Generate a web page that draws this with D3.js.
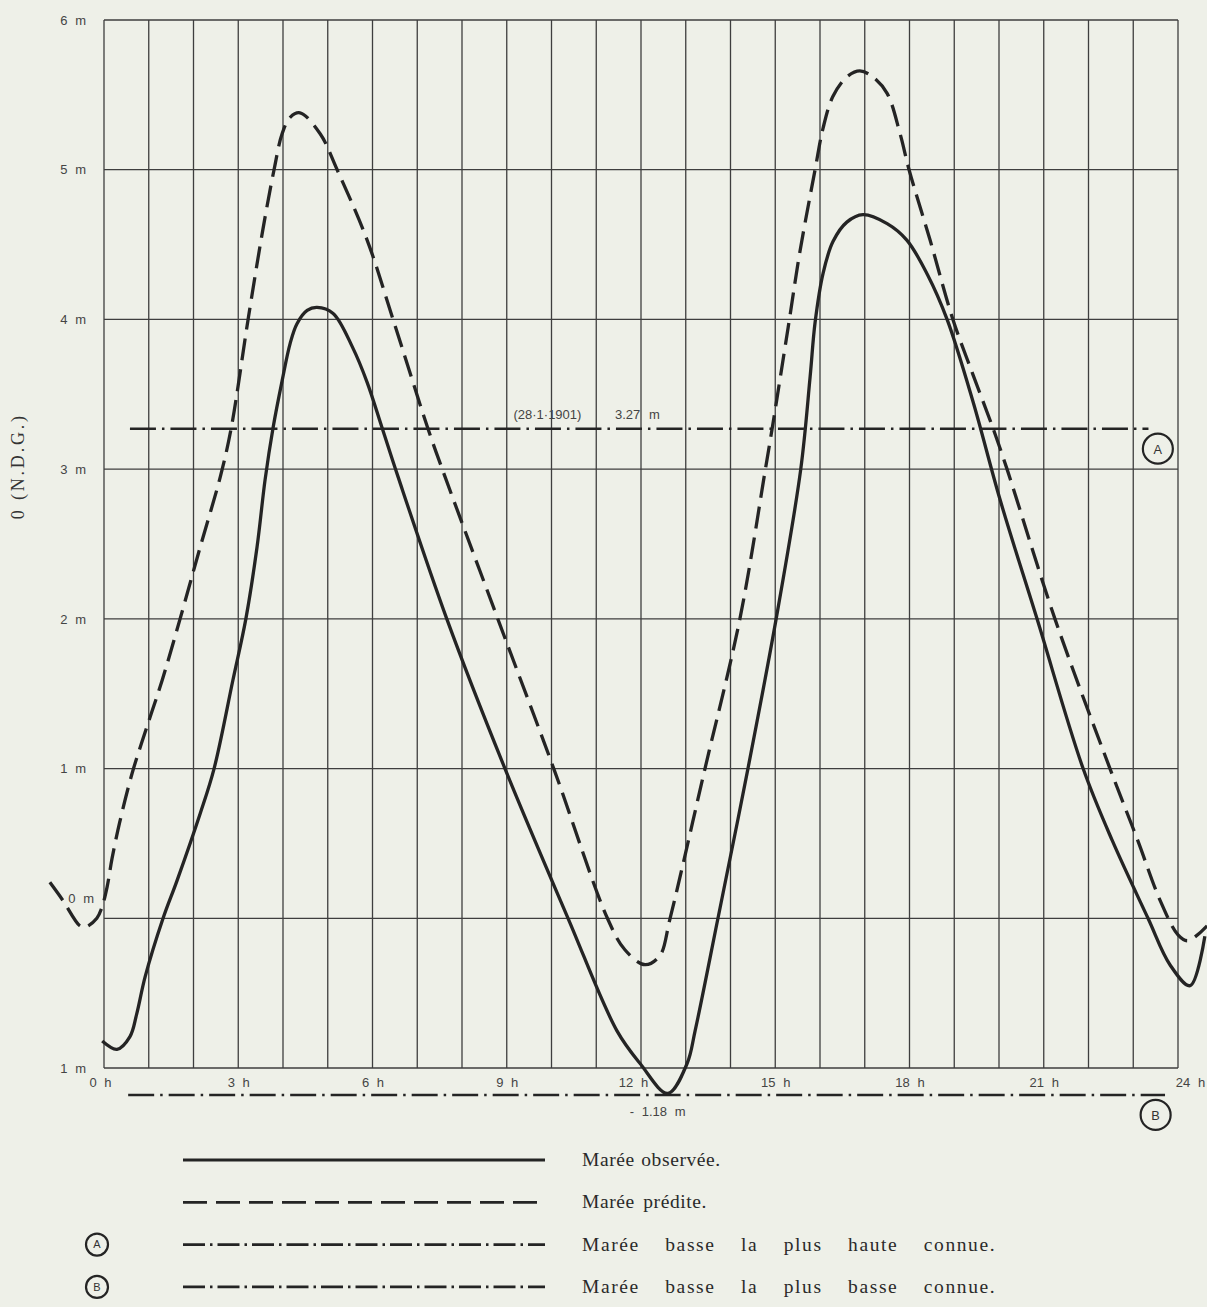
<!DOCTYPE html>
<html>
<head>
<meta charset="utf-8">
<script src="https://cdn.jsdelivr.net/npm/d3@7"></script>
<style>
  body { margin: 0; background: #eef0e8; }
  svg { display: block; }
</style>
</head>
<body>
<div id="chart-area"></div>
<script>
var obsHours = [-0.04, 0.29, 0.58, 0.73, 0.92, 1.32, 1.63, 2.15, 2.46, 2.88, 3.17, 3.42, 3.60, 3.78, 3.98, 4.16, 4.31, 4.54, 4.76, 5.12, 5.56, 5.88, 6.21, 6.57, 7.66, 8.96, 10.37, 11.46, 11.98, 12.6, 13.03, 13.21, 13.72, 14.39, 15.02, 15.57, 15.78, 15.89, 16.07, 16.29, 16.6, 16.96, 17.5, 17.94, 18.4, 18.84, 19.42, 20.02, 20.85, 21.88, 22.53, 23.33, 23.82, 24.27, 24.6];
var obsLevels = [-0.82, -0.875, -0.79, -0.64, -0.39, 0, 0.25, 0.70, 1.0, 1.59, 2.0, 2.48, 2.93, 3.28, 3.59, 3.84, 3.97, 4.06, 4.08, 4.04, 3.81, 3.58, 3.28, 2.95, 2.0, 1.0, 0, -0.75, -0.97, -1.17, -0.97, -0.75, 0, 1.0, 2.0, 3.0, 3.62, 3.98, 4.31, 4.52, 4.65, 4.70, 4.64, 4.53, 4.3, 4.0, 3.45, 2.8, 2.0, 1.0, 0.52, 0, -0.31, -0.45, -0.12];

var predHours = [-1.21, -0.92, -0.54, -0.42, -0.16, -0.05, 0.07, 0.18, 0.35, 0.63, 0.96, 1.30, 1.70, 2.15, 2.6, 2.84, 3.22, 3.55, 3.80, 3.98, 4.16, 4.38, 4.83, 5.21, 5.88, 6.46, 7.24, 7.62, 8.8, 10.05, 11.25, 11.64, 12.09, 12.42, 12.65, 13.43, 14.21, 14.78, 14.93, 15.29, 15.55, 15.89, 16.07, 16.29, 16.6, 16.89, 17.18, 17.5, 17.79, 17.99, 18.46, 18.97, 19.42, 19.87, 20.18, 21.25, 22.48, 23.1, 23.6, 24.0, 24.22, 24.65];
var predLevels = [0.24, 0.12, -0.05, -0.06, 0.0, 0.07, 0.21, 0.40, 0.64, 0.97, 1.28, 1.59, 2.0, 2.48, 2.95, 3.27, 4.0, 4.6, 5.0, 5.24, 5.35, 5.38, 5.24, 5.0, 4.53, 4.0, 3.27, 2.95, 2.0, 1.0, 0, -0.21, -0.31, -0.25, 0, 1.0, 2.0, 3.0, 3.27, 3.95, 4.45, 5.0, 5.28, 5.49, 5.62, 5.66, 5.62, 5.51, 5.24, 5.0, 4.53, 4.0, 3.63, 3.27, 3.0, 2.0, 1.0, 0.52, 0.12, -0.11, -0.15, -0.05];

// niveaux de référence
var refLevels = [3.27, -1.18];
var refStart  = [0.58, 0.54];
var refEnd    = [23.34, 23.71];
var refNames  = ["A", "B"];

var hourTicks  = [0, 3, 6, 9, 12, 15, 18, 21, 24];
var hourLabels = ["0 h", "3 h", "6 h", "9 h", "12 h", "15 h", "18 h", "21 h", "24 h"];
var meterTicks  = [-1, 0, 1, 2, 3, 4, 5, 6];
var meterLabels = ["1 m", "0 m", "1 m", "2 m", "3 m", "4 m", "5 m", "6 m"];

var legendLabels = ["Marée observée.", "Marée prédite.", "Marée basse  la plus haute connue.", "Marée basse  la plus basse connue."];

var totalW = 1207, totalH = 1307;
var margin = { top: 20, left: 104, right: 29, bottom: 239 };
var width  = totalW - margin.left - margin.right;
var height = totalH - margin.top - margin.bottom;

var ink = "#242424";
var labelFont = "Liberation Sans, Arial, sans-serif";
var serifFont = "Liberation Serif, Times New Roman, serif";

var svg = d3.select("#chart-area")
    .append("svg")
        .attr("width", totalW)
        .attr("height", totalH);

svg.append("rect")
    .attr("width", totalW)
    .attr("height", totalH)
    .attr("fill", "#eef0e8");

var g = svg.append("g")
    .attr("transform", "translate(" + margin.left + ", " + margin.top + ")");

var x = d3.scaleLinear().domain([0, 24]).range([0, width]);
var y = d3.scaleLinear().domain([-1, 6]).range([height, 0]);

// quadrillage
g.append("g")
    .selectAll("line")
    .data(d3.range(0, 25))
    .enter()
    .append("line")
        .attr("x1", function(d) { return x(d); })
        .attr("x2", function(d) { return x(d); })
        .attr("y1", 0)
        .attr("y2", height)
        .attr("stroke", "#3e3e3e")
        .attr("stroke-width", 1.3);

g.append("g")
    .selectAll("line")
    .data(meterTicks)
    .enter()
    .append("line")
        .attr("x1", 0)
        .attr("x2", width)
        .attr("y1", function(d) { return y(d); })
        .attr("y2", function(d) { return y(d); })
        .attr("stroke", "#3e3e3e")
        .attr("stroke-width", 1.3);

// axes
var yAxisCall = d3.axisLeft(y)
    .tickValues(meterTicks)
    .tickSize(0)
    .tickPadding(18)
    .tickFormat(function(d, i) { return meterLabels[i]; });

var yAxis = g.append("g")
    .attr("class", "y-axis")
    .call(yAxisCall);
yAxis.select(".domain").remove();
yAxis.selectAll("text")
    .attr("font-family", labelFont)
    .attr("font-size", "13px")
    .attr("fill", "#444")
    .attr("word-spacing", "4px")
    .attr("dy", function(d) { return d === 0 ? "-1.2em" : "0.32em"; })
    .attr("dx", function(d) { return d === 0 ? "8px" : "0"; });

var xAxisCall = d3.axisBottom(x)
    .tickValues(hourTicks)
    .tickSize(0)
    .tickPadding(10)
    .tickFormat(function(d, i) { return hourLabels[i]; });

var xAxis = g.append("g")
    .attr("class", "x-axis")
    .attr("transform", "translate(0, " + height + ")")
    .call(xAxisCall);
xAxis.select(".domain").remove();
xAxis.selectAll("text")
    .attr("font-family", labelFont)
    .attr("font-size", "13px")
    .attr("fill", "#444")
    .attr("word-spacing", "4px")
    .attr("dx", function(d) { return d === 0 ? "-4px" : (d === 24 ? "12px" : (d === 12 ? "-8px" : "0")); });

g.append("text")
    .attr("class", "y-label")
    .attr("transform", "rotate(-90)")
    .attr("x", -y(3.02))
    .attr("y", -80)
    .attr("text-anchor", "middle")
    .attr("font-family", serifFont)
    .attr("font-size", "18px")
    .attr("letter-spacing", "2.8px")
    .attr("fill", "#333")
    .text("0 (N.D.G.)");

// niveaux de référence A et B
g.selectAll(".ref")
    .data(refLevels)
    .enter()
    .append("line")
        .attr("class", "ref")
        .attr("x1", function(d, i) { return x(refStart[i]); })
        .attr("x2", function(d, i) { return x(refEnd[i]); })
        .attr("y1", function(d) { return y(d); })
        .attr("y2", function(d) { return y(d); })
        .attr("stroke", ink)
        .attr("stroke-width", 2.6)
        .attr("stroke-dasharray", "26,6,2.5,6");

g.append("text")
    .attr("x", x(9.15))
    .attr("y", y(refLevels[0]) - 10)
    .attr("font-family", labelFont)
    .attr("font-size", "13px")
    .attr("fill", "#444")
    .text("(28·1·1901)");

g.append("text")
    .attr("x", x(11.42))
    .attr("y", y(refLevels[0]) - 10)
    .attr("font-family", labelFont)
    .attr("font-size", "13px")
    .attr("fill", "#444")
    .attr("word-spacing", "5px")
    .text("3.27 m");

g.append("text")
    .attr("x", x(11.75))
    .attr("y", y(refLevels[1]) + 21)
    .attr("font-family", labelFont)
    .attr("font-size", "13px")
    .attr("fill", "#444")
    .attr("word-spacing", "4px")
    .text("- 1.18 m");

function drawBadge(sel, cx, cy, r, name) {
    sel.append("circle")
        .attr("cx", cx)
        .attr("cy", cy)
        .attr("r", r)
        .attr("fill", "none")
        .attr("stroke", ink)
        .attr("stroke-width", 2.2);
    sel.append("text")
        .attr("x", cx)
        .attr("y", cy + r * 0.33)
        .attr("text-anchor", "middle")
        .attr("font-family", labelFont)
        .attr("font-size", Math.max(r * 0.85, 11) + "px")
        .attr("fill", "#333")
        .text(name);
}

drawBadge(g, x(23.55), y(refLevels[0]) + 20, 15, refNames[0]);
drawBadge(g, x(23.50), y(refLevels[1]) + 20, 15, refNames[1]);

// courbes de marée
var line = d3.line()
    .x(function(d) { return x(d[0]); })
    .y(function(d) { return y(d[1]); })
    .curve(d3.curveCatmullRom.alpha(0.5));

var observed  = d3.zip(obsHours, obsLevels);
var predicted = d3.zip(predHours, predLevels);

g.append("path")
    .datum(predicted)
    .attr("d", line)
    .attr("fill", "none")
    .attr("stroke", ink)
    .attr("stroke-width", 3.3)
    .attr("stroke-dasharray", "22,9");

g.append("path")
    .datum(observed)
    .attr("d", line)
    .attr("fill", "none")
    .attr("stroke", ink)
    .attr("stroke-width", 3.3);

// légende
var legend = svg.append("g")
    .attr("transform", "translate(183, 1160)");

var legendDash = [null, "24,9", "22,5,2.5,5", "22,5,2.5,5"];
var legendLetterGap = [0.6, 0.6, 1.6, 1.6];
var legendWordGap = [1, 3, 19, 19];

legendLabels.forEach(function(label, i) {
    var row = legend.append("g")
        .attr("transform", "translate(0, " + (i * 42.3) + ")");

    row.append("line")
        .attr("x1", 0)
        .attr("x2", 362)
        .attr("y1", 0)
        .attr("y2", 0)
        .attr("stroke", ink)
        .attr("stroke-width", 2.8)
        .attr("stroke-dasharray", legendDash[i]);

    row.append("text")
        .attr("x", 399)
        .attr("y", 6)
        .attr("font-family", serifFont)
        .attr("font-size", "19.5px")
        .attr("letter-spacing", legendLetterGap[i] + "px")
        .attr("word-spacing", legendWordGap[i] + "px")
        .attr("fill", "#2a2a2a")
        .text(label);

    if (i >= 2) {
        drawBadge(row, -86, 0, 11, refNames[i - 2]);
    }
});
</script>
</body>
</html>
